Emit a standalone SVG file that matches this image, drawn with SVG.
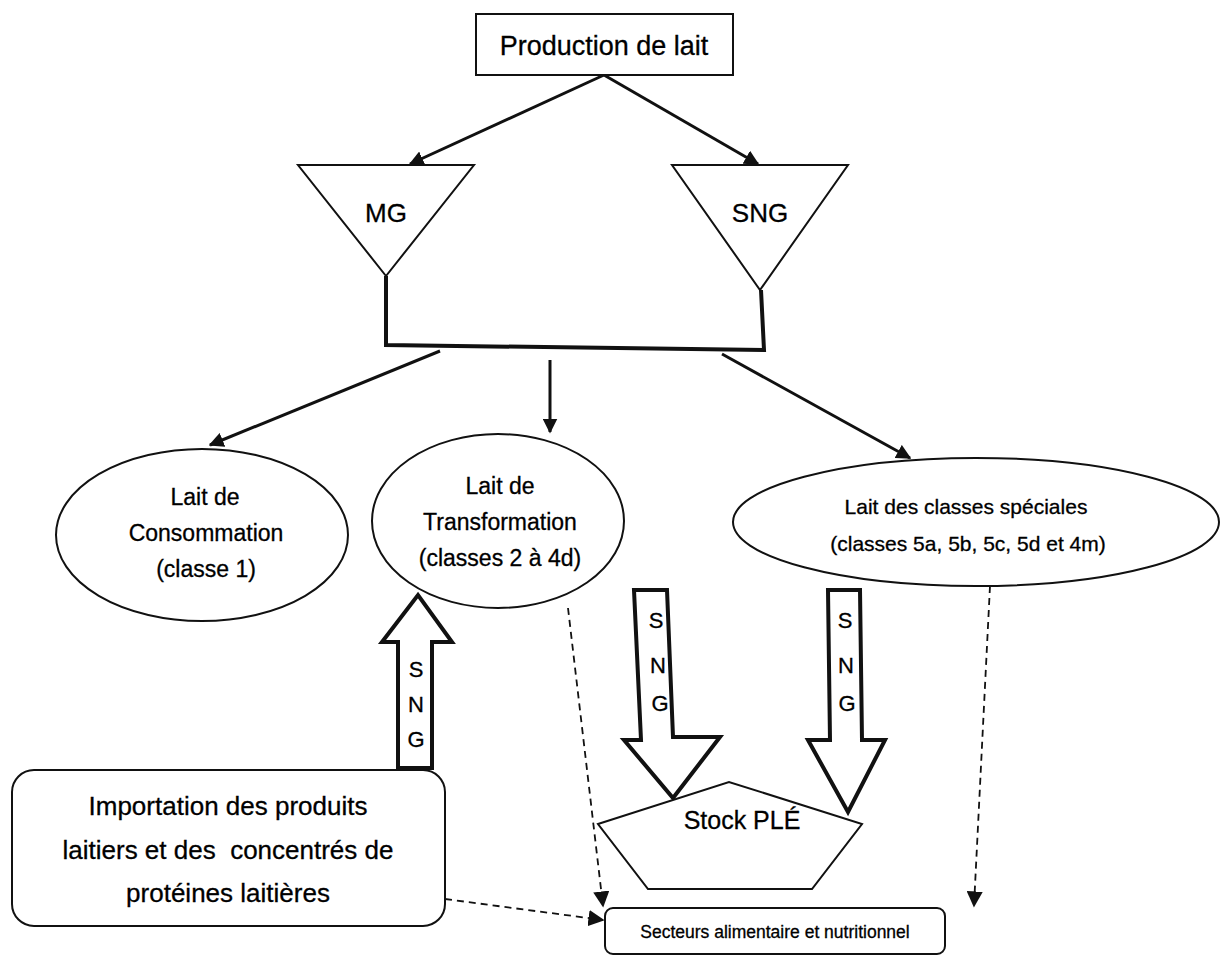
<svg xmlns="http://www.w3.org/2000/svg" width="1220" height="957" viewBox="0 0 1220 957">
<defs>
<style>
text{font-family:"Liberation Sans",Arial,sans-serif;fill:#000;text-anchor:middle;stroke:#000;stroke-width:0.3;white-space:pre}
.sh{fill:#fff;stroke:#111;stroke-width:2}
.thick{fill:#fff;stroke:#111;stroke-width:4;stroke-linejoin:miter}
.ln{fill:none;stroke:#111;stroke-width:3}
.dash{fill:none;stroke:#111;stroke-width:1.8;stroke-dasharray:7,5}
.t27{font-size:27px}
.t26{font-size:26px}
.t25{font-size:25px}
.t23{font-size:23px}
.t21{font-size:21px}
.t22{font-size:22px}
.t17{font-size:17.5px}
</style>
<marker id="ah" viewBox="0 0 10 10" refX="9" refY="5" markerWidth="5" markerHeight="5" orient="auto" markerUnits="strokeWidth">
<path d="M0,0 L10,5 L0,10 z" fill="#111"/>
</marker>
<marker id="ahd" viewBox="0 0 10 10" refX="9" refY="5" markerWidth="9" markerHeight="9" orient="auto" markerUnits="strokeWidth">
<path d="M0,0 L10,5 L0,10 z" fill="#111"/>
</marker>
</defs>
<rect width="1220" height="957" fill="#fff"/>

<g id="connectors">
<line class="ln" x1="604" y1="75" x2="410" y2="164" marker-end="url(#ah)"/>
<line class="ln" x1="604" y1="75" x2="758" y2="164" marker-end="url(#ah)"/>
<polyline class="ln" style="stroke-width:4" points="386,276 386,345 764,350 761,290"/>
<line class="ln" x1="440" y1="351" x2="210" y2="445" marker-end="url(#ah)"/>
<line class="ln" x1="550" y1="360" x2="550" y2="432" marker-end="url(#ah)"/>
<line class="ln" x1="722" y1="354" x2="910" y2="458" marker-end="url(#ah)"/>
<line class="dash" x1="568" y1="608" x2="603" y2="906" marker-end="url(#ahd)"/>
<line class="dash" x1="990" y1="586" x2="974" y2="906" marker-end="url(#ahd)"/>
<line class="dash" x1="445" y1="899" x2="603" y2="920" marker-end="url(#ahd)"/>
</g>

<g id="production">
<rect class="sh" x="476" y="14" width="257" height="61"/>
<text class="t27" x="604" y="55">Production de lait</text>
</g>

<g id="mg">
<polygon class="sh" points="298,165 474,165 386,276"/>
<text class="t26" x="386" y="222">MG</text>
</g>

<g id="sng">
<polygon class="sh" points="672,165 848,165 760,290"/>
<text class="t26" x="760" y="222">SNG</text>
</g>

<g id="consommation">
<ellipse class="sh" cx="202" cy="535" rx="146" ry="86"/>
<text class="t23" x="205" y="505">Lait de</text>
<text class="t23" x="206" y="541">Consommation</text>
<text class="t23" x="206" y="577">(classe 1)</text>
</g>

<g id="transformation">
<ellipse class="sh" cx="498" cy="521" rx="126" ry="87"/>
<text class="t23" x="500" y="494">Lait de</text>
<text class="t23" x="500" y="530">Transformation</text>
<text class="t23" x="500" y="566">(classes 2 à 4d)</text>
</g>

<g id="speciales">
<ellipse class="sh" cx="976" cy="522" rx="243" ry="64"/>
<text class="t21" x="966" y="514">Lait des classes spéciales</text>
<text class="t21" x="968" y="551">(classes 5a, 5b, 5c, 5d et 4m)</text>
</g>

<g id="fleche-import">
<polygon class="thick" points="398,768 398,642 382,642 418,595 452,642 432,642 432,768"/>
<text class="t22" x="416" y="677">S</text>
<text class="t22" x="416" y="712">N</text>
<text class="t22" x="416" y="747">G</text>
</g>

<g id="fleche-transfo">
<polygon class="thick" points="634,590 667,590 673,737 720,737 673,798 624,740 641,740"/>
<text class="t22" x="656" y="628">S</text>
<text class="t22" x="658" y="673">N</text>
<text class="t22" x="660" y="711">G</text>
</g>

<g id="fleche-speciales">
<polygon class="thick" points="828,590 860,590 862,740 885,740 848,812 808,740 830,740"/>
<text class="t22" x="845" y="628">S</text>
<text class="t22" x="846" y="673">N</text>
<text class="t22" x="847" y="711">G</text>
</g>

<g id="stock">
<polygon class="sh" points="598,824 729,782 862,824 812,889 648,889"/>
<text class="t25" x="742" y="829">Stock PLÉ</text>
</g>

<g id="importation">
<rect class="sh" x="12" y="770" width="433" height="156" rx="22"/>
<text class="t26" x="228" y="815">Importation des produits</text>
<text class="t26" x="228" y="859">laitiers et des  concentrés de</text>
<text class="t26" x="228" y="902">protéines laitières</text>
</g>

<g id="secteurs">
<rect class="sh" x="605" y="908" width="340" height="46" rx="8"/>
<text class="t17" x="775" y="938">Secteurs alimentaire et nutritionnel</text>
</g>
</svg>
